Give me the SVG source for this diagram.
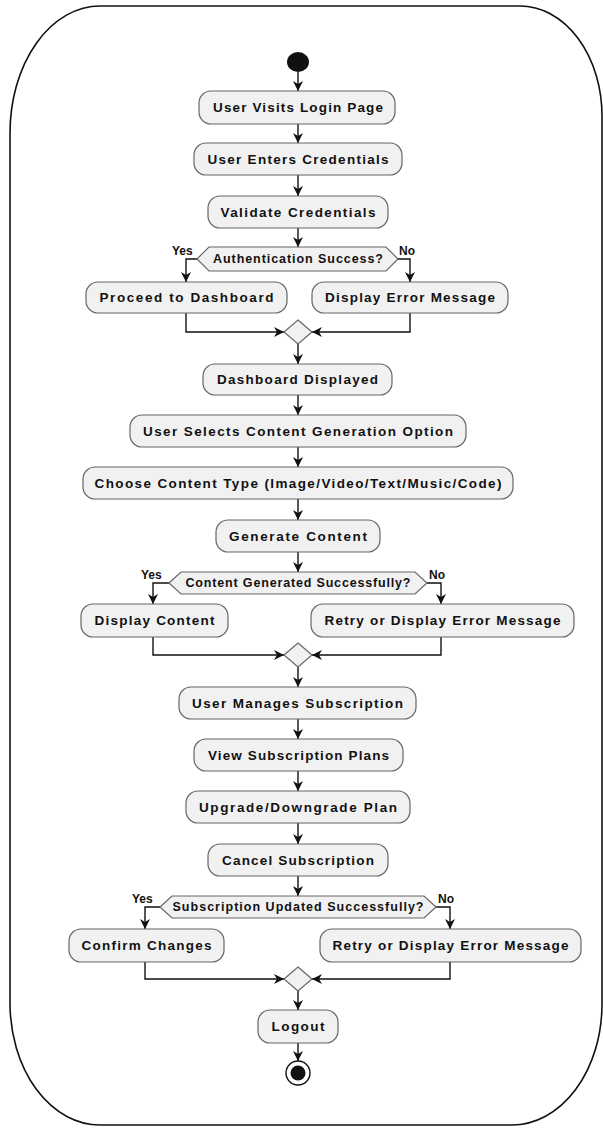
<svg xmlns="http://www.w3.org/2000/svg" width="603" height="1129" viewBox="0 0 603 1129">
<style>
.box{fill:#f1f1f1;stroke:#666;stroke-width:1.2}
.dec{fill:#f1f1f1;stroke:#666;stroke-width:1.2}
.t{font-family:"Liberation Sans",Arial,sans-serif;font-weight:bold;font-size:13.5px;fill:#111;text-anchor:middle}
.dt{font-family:"Liberation Sans",Arial,sans-serif;font-weight:bold;font-size:12.5px;fill:#111;text-anchor:middle}
.yn{font-family:"Liberation Sans",Arial,sans-serif;font-weight:bold;font-size:12px;fill:#111}
.c{fill:none;stroke:#111;stroke-width:1.4}
</style>
<defs>
<marker id="ah" markerUnits="userSpaceOnUse" markerWidth="12" markerHeight="10" refX="10" refY="5" orient="auto">
<path d="M0,0 L10,5 L0,10 L3,5 z" fill="#111"/>
</marker>
</defs>
<rect width="603" height="1129" fill="#fff"/>
<path id="frame" d="M100,6 H520 A82,110 0 0 1 602,116 V1004 A90,121 0 0 1 512,1125 H100 A90,122 0 0 1 10,1003 V133 A90,127 0 0 1 100,6 Z" fill="none" stroke="#111" stroke-width="1.6"/>
<g id="connectors">
<path class="c" marker-end="url(#ah)" d="M298,72 V91"/>
<path class="c" marker-end="url(#ah)" d="M298,124 V143"/>
<path class="c" marker-end="url(#ah)" d="M298,175 V196"/>
<path class="c" marker-end="url(#ah)" d="M298,228 V247"/>
<path class="c" marker-end="url(#ah)" d="M197,259 H186 V282"/>
<path class="c" marker-end="url(#ah)" d="M398,259 H410 V282"/>
<path class="c" marker-end="url(#ah)" d="M186,313 V332 H284"/>
<path class="c" marker-end="url(#ah)" d="M410,313 V332 H312"/>
<path class="c" marker-end="url(#ah)" d="M298,344 V364"/>
<path class="c" marker-end="url(#ah)" d="M298,395 V415"/>
<path class="c" marker-end="url(#ah)" d="M298,447 V467"/>
<path class="c" marker-end="url(#ah)" d="M298,499 V520"/>
<path class="c" marker-end="url(#ah)" d="M298,552 V572"/>
<path class="c" marker-end="url(#ah)" d="M169,583 H153 V604"/>
<path class="c" marker-end="url(#ah)" d="M427,583 H441 V604"/>
<path class="c" marker-end="url(#ah)" d="M153,637 V655 H284"/>
<path class="c" marker-end="url(#ah)" d="M441,637 V655 H312"/>
<path class="c" marker-end="url(#ah)" d="M298,667 V687"/>
<path class="c" marker-end="url(#ah)" d="M298,719 V739"/>
<path class="c" marker-end="url(#ah)" d="M298,771 V791"/>
<path class="c" marker-end="url(#ah)" d="M298,823 V844"/>
<path class="c" marker-end="url(#ah)" d="M298,876 V896"/>
<path class="c" marker-end="url(#ah)" d="M160,907 H145 V929"/>
<path class="c" marker-end="url(#ah)" d="M436,907 H450 V929"/>
<path class="c" marker-end="url(#ah)" d="M145,962 V979 H284"/>
<path class="c" marker-end="url(#ah)" d="M450,962 V979 H312"/>
<path class="c" marker-end="url(#ah)" d="M298,991 V1010"/>
<path class="c" marker-end="url(#ah)" d="M298,1043 V1061"/>
</g>
<g id="start"><ellipse cx="298" cy="62" rx="11" ry="10" fill="#111"/></g>
<g id="n1"><rect class="box" x="199" y="91" width="196" height="33" rx="12"/><text class="t" x="298" y="112" textLength="170" lengthAdjust="spacing">User Visits Login Page</text></g>
<g id="n2"><rect class="box" x="194" y="143" width="208" height="32" rx="12"/><text class="t" x="298" y="164" textLength="181" lengthAdjust="spacing">User Enters Credentials</text></g>
<g id="n3"><rect class="box" x="208" y="196" width="180" height="32" rx="12"/><text class="t" x="298" y="217" textLength="155" lengthAdjust="spacing">Validate Credentials</text></g>
<g id="d1"><polygon class="dec" points="197,259 209,247 386,247 398,259 386,271 209,271"/><text class="dt" x="298" y="263" textLength="170" lengthAdjust="spacing">Authentication Success?</text><text class="yn" x="172" y="255">Yes</text><text class="yn" x="399" y="255">No</text></g>
<g id="n4"><rect class="box" x="86" y="282" width="201" height="31" rx="12"/><text class="t" x="186.5" y="302" textLength="174" lengthAdjust="spacing">Proceed to Dashboard</text></g>
<g id="n5"><rect class="box" x="312" y="282" width="196" height="31" rx="12"/><text class="t" x="410" y="302" textLength="170" lengthAdjust="spacing">Display Error Message</text></g>
<g id="m1"><polygon class="dec" points="298,320 312,332 298,344 284,332"/></g>
<g id="n6"><rect class="box" x="203" y="364" width="189" height="31" rx="12"/><text class="t" x="297.5" y="384" textLength="161" lengthAdjust="spacing">Dashboard Displayed</text></g>
<g id="n7"><rect class="box" x="130" y="415" width="336" height="32" rx="12"/><text class="t" x="298" y="436" textLength="310" lengthAdjust="spacing">User Selects Content Generation Option</text></g>
<g id="n8"><rect class="box" x="83" y="467" width="430" height="32" rx="12"/><text class="t" x="298" y="488" textLength="407" lengthAdjust="spacing">Choose Content Type (Image/Video/Text/Music/Code)</text></g>
<g id="n9"><rect class="box" x="216" y="520" width="164" height="32" rx="12"/><text class="t" x="298" y="541" textLength="138" lengthAdjust="spacing">Generate Content</text></g>
<g id="d2"><polygon class="dec" points="169,583 181,572 415,572 427,583 415,594 181,594"/><text class="dt" x="298" y="587" textLength="225" lengthAdjust="spacing">Content Generated Successfully?</text><text class="yn" x="141" y="579">Yes</text><text class="yn" x="429" y="579">No</text></g>
<g id="n10"><rect class="box" x="81" y="604" width="147" height="33" rx="12"/><text class="t" x="154.5" y="625" textLength="120" lengthAdjust="spacing">Display Content</text></g>
<g id="n11"><rect class="box" x="311" y="604" width="263" height="33" rx="12"/><text class="t" x="442.5" y="625" textLength="236" lengthAdjust="spacing">Retry or Display Error Message</text></g>
<g id="m2"><polygon class="dec" points="298,643 312,655 298,667 284,655"/></g>
<g id="n12"><rect class="box" x="179" y="687" width="237" height="32" rx="12"/><text class="t" x="297.5" y="708" textLength="211" lengthAdjust="spacing">User Manages Subscription</text></g>
<g id="n13"><rect class="box" x="194" y="739" width="209" height="32" rx="12"/><text class="t" x="298.5" y="760" textLength="181" lengthAdjust="spacing">View Subscription Plans</text></g>
<g id="n14"><rect class="box" x="186" y="791" width="224" height="32" rx="12"/><text class="t" x="298" y="812" textLength="198" lengthAdjust="spacing">Upgrade/Downgrade Plan</text></g>
<g id="n15"><rect class="box" x="208" y="844" width="180" height="32" rx="12"/><text class="t" x="298" y="865" textLength="152" lengthAdjust="spacing">Cancel Subscription</text></g>
<g id="d3"><polygon class="dec" points="160,907 172,896 424,896 436,907 424,918 172,918"/><text class="dt" x="298" y="911" textLength="251" lengthAdjust="spacing">Subscription Updated Successfully?</text><text class="yn" x="132" y="903">Yes</text><text class="yn" x="438" y="903">No</text></g>
<g id="n16"><rect class="box" x="69" y="929" width="155" height="33" rx="12"/><text class="t" x="146.5" y="950" textLength="130" lengthAdjust="spacing">Confirm Changes</text></g>
<g id="n17"><rect class="box" x="320" y="929" width="261" height="33" rx="12"/><text class="t" x="450.5" y="950" textLength="236" lengthAdjust="spacing">Retry or Display Error Message</text></g>
<g id="m3"><polygon class="dec" points="298,967 312,979 298,991 284,979"/></g>
<g id="n18"><rect class="box" x="258" y="1010" width="80" height="33" rx="12"/><text class="t" x="298" y="1031" textLength="53" lengthAdjust="spacing">Logout</text></g>
<g id="end"><circle cx="298" cy="1073" r="12" fill="#fff" stroke="#111" stroke-width="1.4"/><circle cx="298" cy="1073" r="7.5" fill="#111"/></g>
</svg>
